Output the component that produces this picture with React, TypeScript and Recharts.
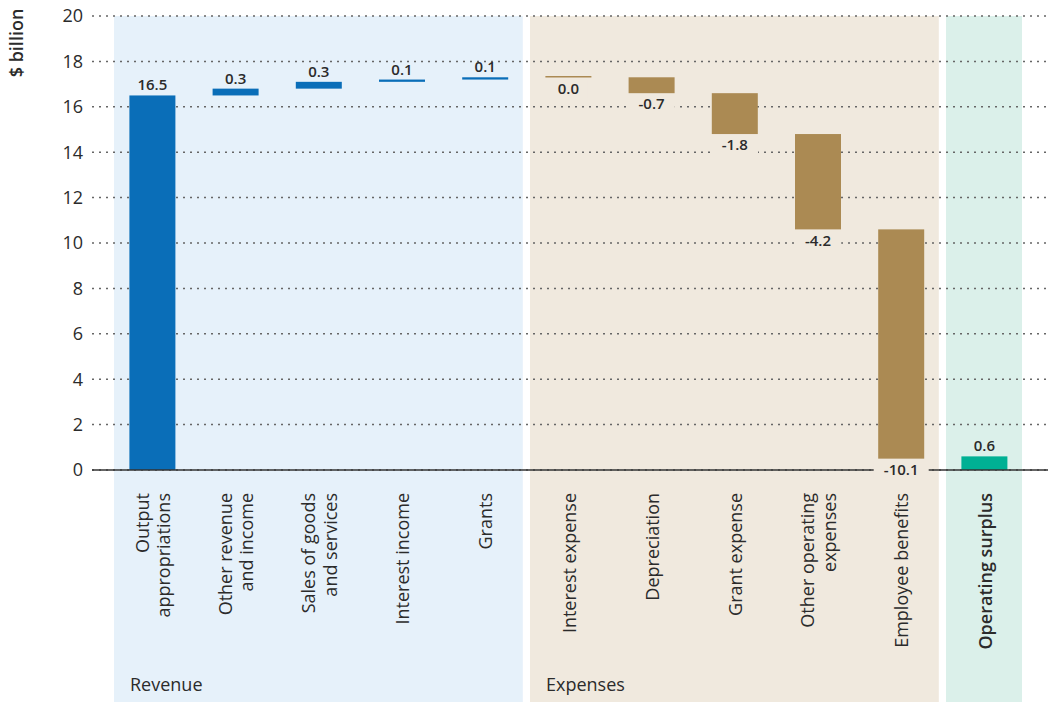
import { BarChart, Bar, XAxis, YAxis, CartesianGrid, ReferenceArea, LabelList } from "recharts";

const categories = [
  "Output appropriations",
  "Other revenue and income",
  "Sales of goods and services",
  "Interest income",
  "Grants",
  "Interest expense",
  "Depreciation",
  "Grant expense",
  "Other operating expenses",
  "Employee benefits",
  "Operating surplus",
];

const tickLines = [
  ["Output", "appropriations"],
  ["Other revenue", "and income"],
  ["Sales of goods", "and services"],
  ["Interest income"],
  ["Grants"],
  ["Interest expense"],
  ["Depreciation"],
  ["Grant expense"],
  ["Other operating", "expenses"],
  ["Employee benefits"],
  ["Operating surplus"],
];

// $ billion
const amounts = [16.5, 0.3, 0.3, 0.1, 0.1, 0.0, -0.7, -1.8, -4.2, -10.1, 0.6];
const groups = [
  "revenue", "revenue", "revenue", "revenue", "revenue",
  "expense", "expense", "expense", "expense", "expense",
  "total",
];
const yTicks = [0, 2, 4, 6, 8, 10, 12, 14, 16, 18, 20];

const regions = [
  { from: "Output appropriations", to: "Grants", label: "Revenue", group: "revenue" },
  { from: "Interest expense", to: "Employee benefits", label: "Expenses", group: "expense" },
  { from: "Operating surplus", to: "Operating surplus", label: "", group: "total" },
];

const BAR_COLORS: Record<string, string> = { revenue: "#0a6eb8", expense: "#ab8a53", total: "#00b094" };
const BG_COLORS: Record<string, string> = { revenue: "#e6f1fa", expense: "#f0e9de", total: "#dbf0ea" };

const FONT = "'Open Sans', sans-serif";
const TEXT = "#2b2b2b";

// waterfall: each step floats on the running total, the total bar starts at 0
let running = 0;
const chartData = categories.map((name, i) => {
  const amount = amounts[i];
  let range: number[];
  if (groups[i] === "total") {
    range = [0, amount];
  } else {
    const start = running;
    running = Math.round((running + amount) * 100) / 100;
    range = [Math.min(start, running), Math.max(start, running)];
  }
  return { name, amount, range };
});

function WaterfallBar(props: any) {
  const { x, y, width, height, index } = props;
  const top = Math.min(y, y + height);
  const h = Math.abs(height);
  const fill = BAR_COLORS[groups[index]];
  if (h < 1) return <rect x={x} y={Math.round(top) - 1} width={width} height={1.5} fill={fill} />;
  return <rect x={x} y={top} width={width} height={h} fill={fill} />;
}

function ValueLabel(props: any) {
  const i = categories.indexOf(props.value);
  if (i < 0) return null;
  const vb = props.viewBox ?? props;
  const top = Math.min(vb.y, vb.y + vb.height);
  const bottom = Math.max(vb.y, vb.y + vb.height);
  const cx = vb.x + vb.width / 2;
  const text = amounts[i].toFixed(1);
  const style = { fontFamily: FONT, fontSize: 15, fontWeight: 600, fill: TEXT };
  if (groups[i] === "expense") {
    const base = bottom + 16.3;
    const w = text.length * 8.6 + 12;
    return (
      <g>
        <rect x={cx - w / 2} y={base - 14.5} width={w} height={19} fill={BG_COLORS.expense} />
        <text x={cx} y={base} textAnchor="middle" {...style}>{text}</text>
      </g>
    );
  }
  return <text x={cx} y={top - 5} textAnchor="middle" {...style}>{text}</text>;
}

function CategoryTick(props: any) {
  const { x, y, payload } = props;
  const i = categories.indexOf(payload.value);
  const lines = tickLines[i] ?? [payload.value];
  const bold = groups[i] === "total";
  return (
    <g transform={`translate(${x},${y})`}>
      <text
        transform="rotate(-90)"
        textAnchor="end"
        fontFamily={FONT}
        fontSize={18}
        fontWeight={bold ? 600 : 400}
        fill={TEXT}
      >
        {lines.map((line: string, k: number) => (
          <tspan key={k} x={-23} y={1.5 + (k - (lines.length - 1) / 2) * 21.5 + 6}>
            {line}
          </tspan>
        ))}
      </text>
    </g>
  );
}

function RegionRect(props: any) {
  const { x, y, width, region } = props;
  const inset = 3.6;
  return (
    <g>
      <rect x={x + inset} y={y} width={width - inset * 2} height={702 - y} fill={BG_COLORS[region.group]} />
      {region.label ? (
        <text x={x + inset + 16} y={690.5} fontFamily={FONT} fontSize={18} fontWeight={500} fill={TEXT}>
          {region.label}
        </text>
      ) : null}
    </g>
  );
}

function UnitLabel() {
  return (
    <text
      transform="translate(23,43) rotate(-90)"
      textAnchor="middle"
      fontFamily={FONT}
      fontSize={18}
      fontWeight={600}
      fill={TEXT}
    >
      $ billion
    </text>
  );
}

export default function App() {
  return (
    <div style={{ position: "absolute", left: 0, top: 0, width: 1048, height: 702 }}>
      <BarChart
        width={1048}
        height={702}
        data={chartData}
        margin={{ top: 16, right: 0, bottom: 0, left: 0 }}
        barSize={46}
      >
        {regions.map((r) => (
          <ReferenceArea
            key={r.group}
            x1={r.from}
            x2={r.to}
            ifOverflow="visible"
            zIndex={-200}
            shape={(p: any) => <RegionRect {...p} region={r} />}
          />
        ))}
        <CartesianGrid vertical={false} stroke="#666" strokeWidth={1.5} strokeDasharray="2 5" />
        <YAxis
          type="number"
          domain={[0, 20]}
          ticks={yTicks}
          interval={0}
          width={92}
          axisLine={false}
          tickLine={false}
          tickSize={0}
          tickMargin={9}
          tick={{ fontFamily: FONT, fontSize: 18, fill: TEXT }}
          label={<UnitLabel />}
        />
        <XAxis
          dataKey="name"
          type="category"
          interval={0}
          height={232}
          padding={{ left: 18.4, right: 22.4 }}
          tickLine={false}
          tickSize={0}
          tickMargin={0}
          axisLine={{ stroke: "#333", strokeWidth: 1.5 }}
          tick={<CategoryTick />}
        />
        <Bar dataKey="range" isAnimationActive={false} shape={<WaterfallBar />}>
          <LabelList dataKey="name" content={<ValueLabel />} />
        </Bar>
      </BarChart>
    </div>
  );
}
